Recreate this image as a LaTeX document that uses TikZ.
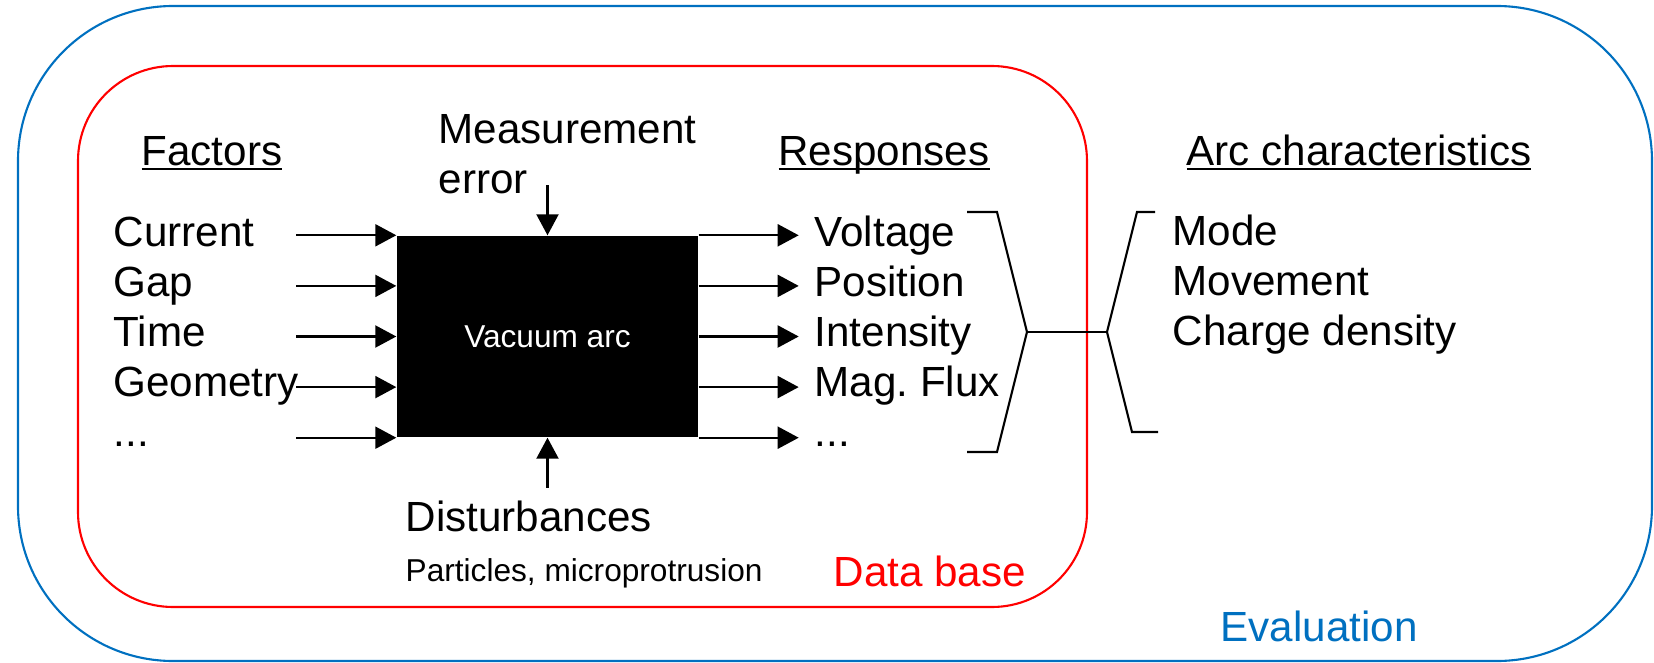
\documentclass[tikz,border=0pt]{standalone}
\usepackage{fontspec}
\setmainfont{Liberation Sans}
\usepackage{tikz}
\usepackage{xcolor}
\usetikzlibrary{arrows.meta,calc}
\definecolor{dbred}{RGB}{255,0,0}
\definecolor{evalblue}{RGB}{0,112,192}
\newsavebox{\ulbox}
\newcommand{\ulabel}[1]{\sbox{\ulbox}{#1}\rlap{\rule[-1.3pt]{\wd\ulbox}{0.55pt}}\usebox{\ulbox}}
\newcommand{\tdots}{...}
\frenchspacing

\begin{document}
\begin{tikzpicture}[
  x=0.1mm, y=-0.1mm,
  font=\fontsize{12}{14.2}\selectfont,
  lbl/.style={inner sep=0pt, anchor=base west},
  head/.style={inner sep=0pt, anchor=base},
  small/.style={font=\fontsize{9}{10.8}\selectfont},
  box/.style={fill=black, text=white, minimum width=30.1mm, minimum height=20.1mm, inner sep=0pt, small},
  arr/.style={-{Triangle[length=2.1mm, width=2.2mm]}, line width=0.6pt},
  brace/.style={line width=0.6pt}
]
\useasboundingbox (0,0) rectangle (1654,663);
\draw[evalblue, line width=0.6pt, rounded corners=15.5mm] (18,6) rectangle (1652,661);
\draw[dbred, line width=0.6pt, rounded corners=9.5mm] (78,66) rectangle (1087,607);

\node[box] (arc) at (547.5,336.5) {Vacuum arc};

\node[head] (fac) at (212,165) {\ulabel{Factors}};
\node[head] (resp) at (884,165) {\ulabel{Responses}};
\node[head] (char) at (1359,165) {\ulabel{Arc characteristics}};

\foreach \lbl [count=\i from 0] in {Current,Gap,Time,Geometry,\tdots} {
  \node[lbl] (f\i) at (113,246+50*\i) {\lbl};
  \coordinate (in\i) at ($(arc.north west)!\i/4!(arc.south west)$);
  \coordinate (fs\i) at ($(in\i)+(-100,0)$);
  \draw[arr] (fs\i) -- (in\i);
}
\foreach \lbl [count=\i from 0] in {Voltage,Position,Intensity,Mag. Flux,\tdots} {
  \node[lbl] (r\i) at (814,246+50*\i) {\lbl};
  \coordinate (out\i) at ($(arc.north east)!\i/4!(arc.south east)$);
  \coordinate (re\i) at ($(out\i)+(100,0)$);
  \draw[arr] (out\i) -- (re\i);
}
\foreach \lbl [count=\i from 0] in {Mode,Movement,Charge density} {
  \node[lbl] (c\i) at (1172,245+50*\i) {\lbl};
}

\node[inner sep=0pt, anchor=north west, align=left] (meas) at (438,114) {Measurement\\error};
\coordinate (ms) at ($(arc.north)+(0,-50)$);
\draw[arr] (ms) -- (arc.north);
\node[lbl] (dist) at (405,531) {Disturbances};
\node[lbl, small] (part) at (405,581) {Particles, microprotrusion};
\coordinate (ds) at ($(arc.south)+(0,50)$);
\draw[arr] (ds) -- (arc.south);

\coordinate (rb) at (1027,332);
\coordinate (lb) at (1107,332);
\draw[brace] (967,212) -- (997,212) -- (rb) -- (997,452) -- (967,452);
\draw[brace] (rb) -- (lb);
\draw[brace] (1155,212) -- (1137,212) -- (lb) -- (1132,432) -- (1158,432);

\node[lbl, text=dbred] (db) at (833,586) {Data base};
\node[lbl, text=evalblue] (ev) at (1220,641) {Evaluation};
\end{tikzpicture}
\end{document}
